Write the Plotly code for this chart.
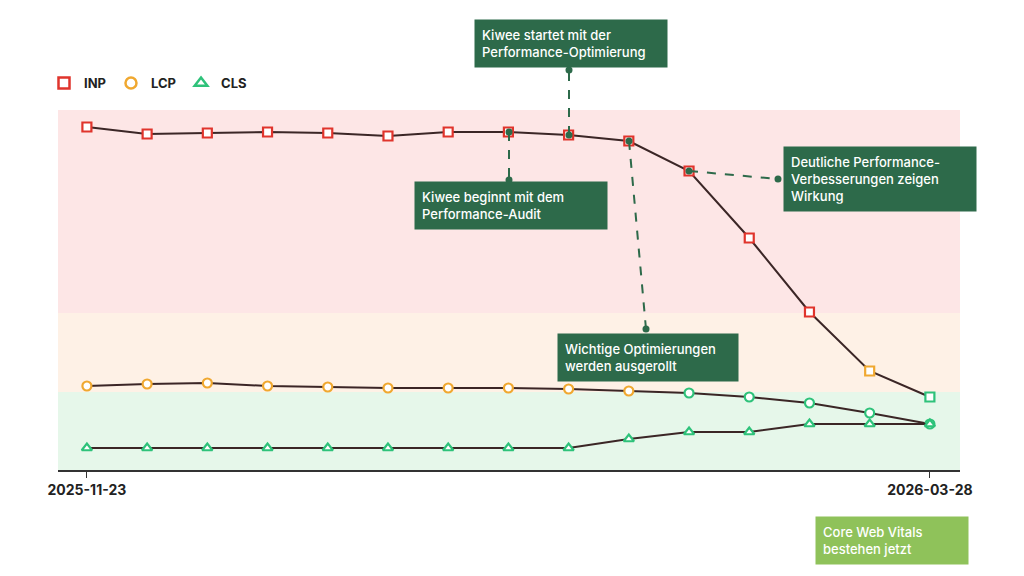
import plotly.graph_objects as go

dates = ["2025-11-23", "2025-12-02", "2025-12-11", "2025-12-20", "2025-12-29", "2026-01-07",
         "2026-01-16", "2026-01-25", "2026-02-03", "2026-02-12", "2026-02-21", "2026-03-02",
         "2026-03-11", "2026-03-19", "2026-03-28"]
inp = [343, 336, 337, 338, 337, 334, 338, 338, 335, 329, 299, 232, 158, 99, 73]
lcp = [84, 86, 87, 84, 83, 82, 82, 82, 81, 79, 77, 73, 67, 57, 46]
cls = [22, 22, 22, 22, 22, 22, 22, 22, 22, 31, 38, 38, 46, 46, 46]

RED, ORA, GRN = "#e0342c", "#f0a830", "#2ec27a"
def band(v):
    return RED if v > 157 else (ORA if v > 78 else GRN)

OFF = 8  # page offset
L, R, T, B = 58 - OFF, 1024 - 960 + OFF, 110 - OFF, 576 - 470 + OFF
W = 1024 - L - R
def px(x): return (x - OFF - L) / W
def py(y): return (470 - y) / 360

idx = list(range(len(dates)))
fig = go.Figure()
for name, vals, sym in [("INP", inp, "square"), ("LCP", lcp, "circle"), ("CLS", cls, "triangle-up")]:
    cols = [band(v) for v in vals]
    c = {"INP": RED, "LCP": ORA, "CLS": GRN}[name]
    fig.add_trace(go.Scatter(x=idx, y=vals, name=name, mode="lines",
                             line=dict(color="#3b2626", width=2), showlegend=False))
    fig.add_trace(go.Scatter(x=idx, y=vals, name=name, mode="markers",
                             marker=dict(symbol=sym, size=9, color="white",
                                         line=dict(color=cols, width=2.2)),
                             showlegend=False))
    fig.add_trace(go.Scatter(x=[None], y=[None], name=name, mode="markers",
                             marker=dict(symbol=sym, size=11, color="white", line=dict(color=c, width=2.5))))

shapes = [
    dict(type="rect", xref="paper", yref="y", x0=0, x1=1, y0=157, y1=360, fillcolor="#fde6e6", line_width=0, layer="below"),
    dict(type="rect", xref="paper", yref="y", x0=0, x1=1, y0=78, y1=157, fillcolor="#fef1e6", line_width=0, layer="below"),
    dict(type="rect", xref="paper", yref="y", x0=0, x1=1, y0=0, y1=78, fillcolor="#e6f7ea", line_width=0, layer="below"),
]
DG = "#2d6a4a"
lines = [((509, 132), (509, 180)), ((569, 135), (569, 70)), ((629, 141), (646, 329)), ((689, 171), (778, 179))]
for (x0, y0), (x1, y1) in lines:
    shapes.append(dict(type="line", xref="paper", yref="paper", x0=px(x0), y0=py(y0), x1=px(x1), y1=py(y1),
                       line=dict(color=DG, width=2, dash="dash")))
    for (cx, cy) in [(x0, y0), (x1, y1)]:
        shapes.append(dict(type="circle", xref="paper", yref="paper", x0=px(cx - 3.5), x1=px(cx + 3.5),
                           y0=py(cy + 3.5), y1=py(cy - 3.5), fillcolor=DG, line_width=0))

notes = [
    (414, 205, "Kiwee beginnt mit dem<br>Performance-Audit", DG, 178),
    (474, 43, "Kiwee startet mit der<br>Performance-Optimierung", DG, 178),
    (557, 357, "Wichtige Optimierungen<br>werden ausgerollt", DG, 166),
    (783, 179, "Deutliche Performance-<br>Verbesserungen zeigen<br>Wirkung", DG, 178),
    (815, 540, "Core Web Vitals<br>bestehen jetzt", "#8fc25a", 138),
]
anns = []
for x, y, t, c, w in notes:
    anns.append(dict(xref="paper", yref="paper", x=px(x), y=py(y), xanchor="left", yanchor="middle",
                     text=t, showarrow=False, align="left", bgcolor=c, borderpad=7, width=w,
                     font=dict(color="white", size=13, family="Inter", weight=500)))

fig.update_layout(
    width=1024, height=576, margin=dict(l=L, r=R, t=T, b=B),
    paper_bgcolor="white", plot_bgcolor="white",
    font=dict(family="Inter", color="#222"),
    shapes=shapes, annotations=anns,
    legend=dict(orientation="h", x=px(44), y=py(83), xanchor="left", yanchor="middle",
                font=dict(size=13, color="#222", family="Inter", weight="bold"), traceorder="normal"),
    xaxis=dict(range=[-0.48, 14.5], tickvals=[0, 14], ticktext=[dates[0], dates[-1]],
               showgrid=False, zeroline=False, showline=True, linecolor="#333", linewidth=1.5,
               ticks="outside", tickcolor="#333", ticklen=6,
               tickfont=dict(size=14, color="#222", family="Inter", weight="bold")),
    yaxis=dict(range=[0, 360], visible=False, showgrid=False),
)
fig.write_html("out.html")
